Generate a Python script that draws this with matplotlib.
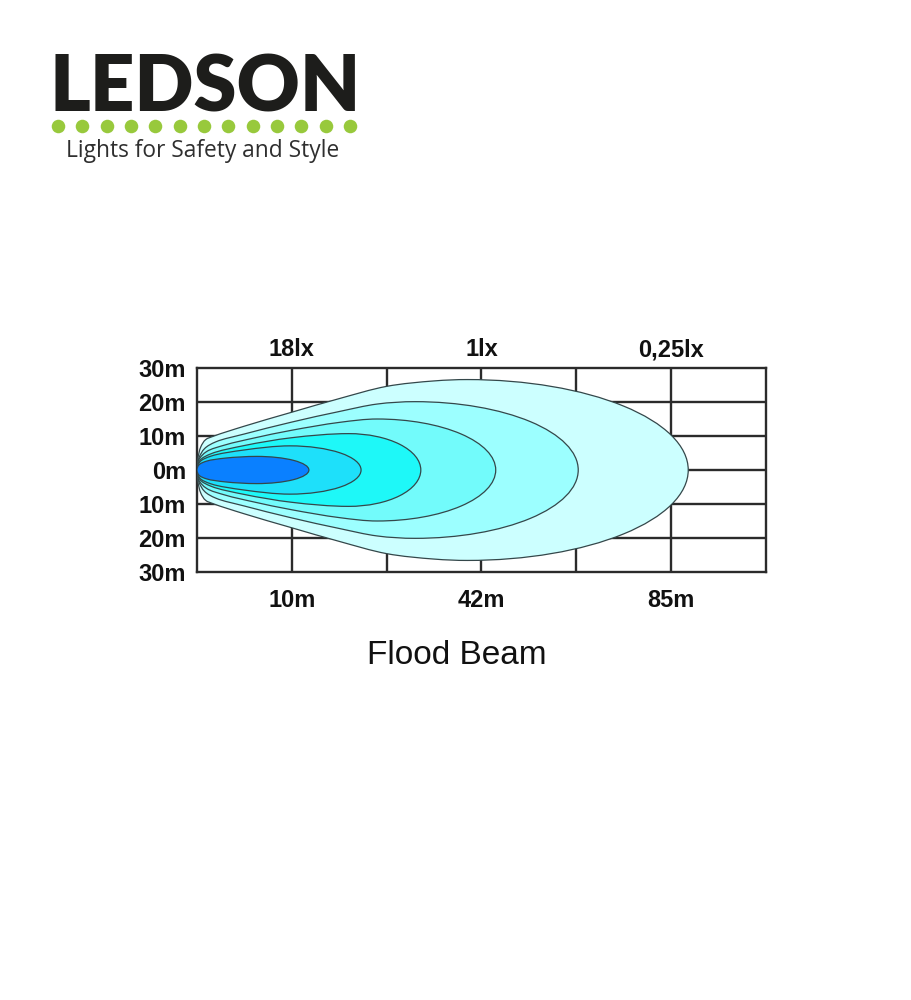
import numpy as np
import matplotlib
matplotlib.use("Agg")
import matplotlib.pyplot as plt
from matplotlib.path import Path
from matplotlib.patches import PathPatch

# ---------------- data ----------------
y_tick_values = [30, 20, 10, 0, -10, -20, -30]
y_tick_labels = ["30m", "20m", "10m", "0m", "10m", "20m", "30m"]
lux_labels = ["18lx", "1lx", "0,25lx"]
dist_labels = ["10m", "42m", "85m"]
label_columns = [1, 3, 5]
title = "Flood Beam"

# iso-lux contours (x in grid columns, y in metres):
# rising upper-left outline points, then the widest point (peak x, half width)
# and the reach of the elliptical front (tip x)
outer_x = [0, 0.01, 0.04, 0.09, 0.18, 0.5, 1.0, 1.5, 2.0, 2.5]
outer_y = [0, 3.5, 6.8, 8.9, 10.0, 12.9, 17.0, 21.0, 24.6, 26.2]
ring2_x = [0, 0.02, 0.08, 0.2, 0.5, 1.0, 1.5, 1.9]
ring2_y = [0, 3.5, 6.3, 8.3, 10.6, 14.1, 17.2, 19.4]
ring3_x = [0, 0.02, 0.1, 0.3, 0.6, 1.0, 1.5]
ring3_y = [0, 3.0, 5.4, 7.4, 9.4, 11.7, 14.0]
ring4_x = [0, 0.03, 0.15, 0.5, 1.0]
ring4_y = [0, 2.8, 4.8, 7.2, 9.5]
ring5_x = [0, 0.03, 0.15, 0.5]
ring5_y = [0, 2.4, 4.1, 5.9]
core_x = [0, 0.02, 0.1, 0.3]
core_y = [0, 1.5, 2.6, 3.5]

peak_x = [2.85, 2.3, 1.9, 1.6, 0.98, 0.63]
half_width = [26.6, 20.1, 15.0, 10.7, 7.1, 4.0]
reach_x = [5.18, 4.02, 3.15, 2.36, 1.73, 1.18]

contour_colors = ["#ccffff", "#9cffff", "#72fbfb", "#1ef8f8", "#1ee0fa", "#0a80ff"]

# ---------------- helpers ----------------
PX_PER_COL, PX_PER_M = 95.0, 3.4


def cr_bezier(pts):
    """Centripetal Catmull-Rom through pts[1:-1] (pts[0], pts[-1] are guides)."""
    out = []
    for i in range(1, len(pts) - 2):
        p0, p1, p2, p3 = pts[i - 1], pts[i], pts[i + 1], pts[i + 2]
        d01 = max(np.linalg.norm(p1 - p0) ** 0.5, 1e-6)
        d12 = max(np.linalg.norm(p2 - p1) ** 0.5, 1e-6)
        d23 = max(np.linalg.norm(p3 - p2) ** 0.5, 1e-6)
        m1 = ((p1 - p0) / d01 - (p2 - p0) / (d01 + d12) + (p2 - p1) / d12) * d12
        m2 = ((p2 - p1) / d12 - (p3 - p1) / (d12 + d23) + (p3 - p2) / d23) * d12
        out += [p1 + m1 / 3.0, p2 - m2 / 3.0, p2]
    return out


def beam_path(xs, ys, px, hw, rx):
    scale = np.array([PX_PER_COL, PX_PER_M])
    upper = [(x, y) for x, y in zip(xs, ys)] + [(px, hw)]
    xl, yl = upper[-2]
    ghost_top = (2 * px - xl, yl)
    chain = [ghost_top] + upper[::-1] + [(x, -y) for x, y in upper[1:]] + [(2 * px - xl, -yl)]
    chain = [np.array(p, dtype=float) * scale for p in chain]
    verts = [chain[1]]
    codes = [Path.MOVETO]
    left = cr_bezier(chain)
    verts += left
    codes += [Path.CURVE4] * len(left)
    arc = Path.arc(-90, 90)
    a = (rx - px) * PX_PER_COL
    b = hw * PX_PER_M
    for v, c in zip(arc.vertices[1:], arc.codes[1:]):
        verts.append(np.array([px * PX_PER_COL + a * v[0], b * v[1]]))
        codes.append(c)
    verts.append(verts[0])
    codes.append(Path.CLOSEPOLY)
    return Path(np.array(verts) / scale, codes)


# ---------------- figure ----------------
W, H = 912, 1000
fig = plt.figure(figsize=(W / 100, H / 100), dpi=100)
fig.patch.set_facecolor("white")

# logo layer (pixel coordinates)
lax = fig.add_axes([0, 0, 1, 1])
lax.set_xlim(0, W)
lax.set_ylim(H, 0)
lax.axis("off")
lax.text(50, 112, "LEDSON", fontsize=56, fontfamily="Lato", fontweight="heavy",
         color="#1d1d1b", ha="left", va="baseline")
dot_x = np.linspace(58, 350, 13)
lax.scatter(dot_x, np.full_like(dot_x, 126), s=95, color="#98c93c", linewidths=0)
lax.text(66, 157, "Lights for Safety and Style", fontsize=16.4, fontfamily="Open Sans",
         color="#2f2f2f", ha="left", va="baseline")
lax.text(457, 655, title, fontsize=24, fontfamily="Liberation Sans", color="#111111",
         ha="center", va="center")

# chart
ax = fig.add_axes([197 / W, 1 - 572 / H, (766 - 197) / W, 204 / H])
ax.set_xlim(0, 6)
ax.set_ylim(-30, 30)
ax.set_facecolor("white")
grid_color = "#2b2b2b"
for yv in y_tick_values[1:-1]:
    ax.axhline(yv, color=grid_color, lw=1.7, zorder=1)
for xv in range(1, 6):
    ax.axvline(xv, color=grid_color, lw=1.7, zorder=1)
for s in ax.spines.values():
    s.set_color(grid_color)
    s.set_linewidth(1.7)
    s.set_zorder(1)

contours = [(outer_x, outer_y), (ring2_x, ring2_y), (ring3_x, ring3_y),
            (ring4_x, ring4_y), (ring5_x, ring5_y), (core_x, core_y)]
for k, ((cx, cy), px, hw, rx, col) in enumerate(zip(contours, peak_x, half_width,
                                                     reach_x, contour_colors)):
    patch = PathPatch(beam_path(cx, cy, px, hw, rx), facecolor=col, edgecolor="#34474a",
                      lw=0.9, zorder=3 + k)
    ax.add_patch(patch)

lab_font = dict(fontsize=17, fontfamily="Liberation Sans", fontweight="bold", color="#111111")
ax.set_yticks(y_tick_values)
ax.set_yticklabels(y_tick_labels, **lab_font)
ax.tick_params(axis="y", length=0, pad=8)
ax.set_xticks(label_columns)
ax.set_xticklabels(dist_labels, **lab_font)
ax.tick_params(axis="x", length=0, pad=12)

top = ax.secondary_xaxis("top")
top.set_xticks(label_columns)
top.set_xticklabels(lux_labels, **lab_font)
top.tick_params(axis="x", length=0, pad=5)
for s in top.spines.values():
    s.set_visible(False)

fig.savefig("out.png", dpi=100, facecolor="white")
